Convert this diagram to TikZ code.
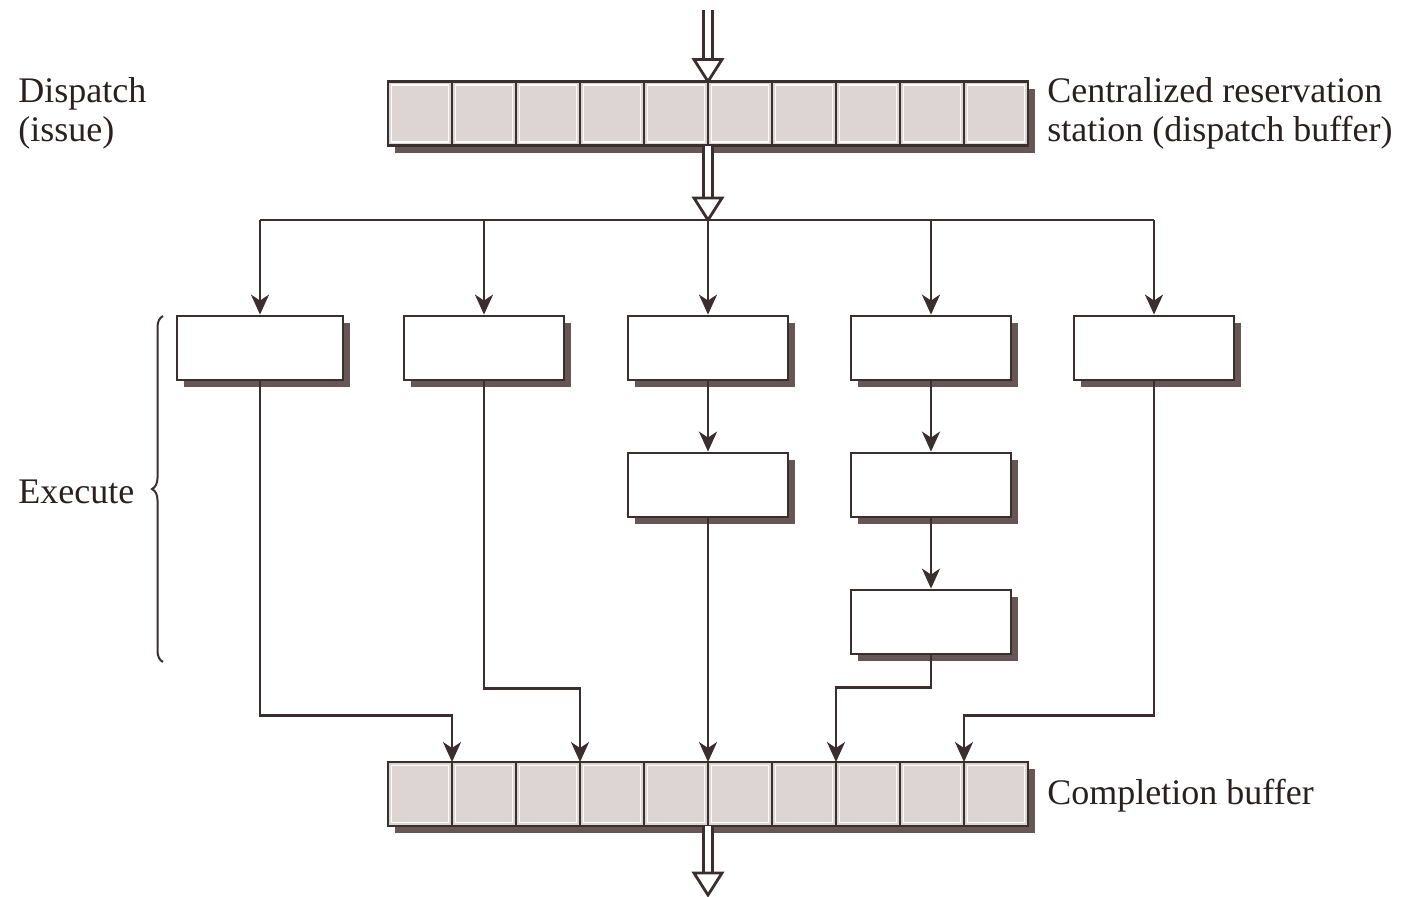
\documentclass[tikz,border=0pt]{standalone}
\usepackage{fontspec}
\setmainfont{Liberation Serif}
\usepackage{xcolor}
\usepackage{tikz}
\usetikzlibrary{arrows.meta,shadows,calc,decorations.pathreplacing,positioning}
\definecolor{ink}{HTML}{3A2E2E}
\definecolor{shadowgray}{HTML}{665655}
\definecolor{cellgray}{HTML}{DDD5D3}
\newcommand{\hollowarrow}[2]{%
  \draw[ink, line width=1.4pt, double=white, double distance=3pt] (#1) -- ($(#2)+(0,-21)$);
  \draw[ink, line width=1.4pt, fill=white, line join=miter] ($(#2)+(-14,-22)$) -- (#2) -- ($(#2)+(14,-22)$) -- cycle;}

\begin{document}
\begin{tikzpicture}[
  x=0.5pt, y=-0.5pt,
  font=\fontsize{18}{19.5}\selectfont,
  line/.style={ink, line width=1.4pt},
  arrow/.style={line, -{Stealth[length=10pt, width=9pt, inset=3pt]}},
  unit/.style={rectangle, draw=ink, line width=1.4pt, fill=white, minimum width=80pt, minimum height=32pt, inner sep=0pt, general shadow={fill=shadowgray, shadow xshift=3.5pt, shadow yshift=-3.5pt}},
  buf/.style={rectangle, draw=ink, line width=1.4pt, fill=cellgray, minimum width=320pt, minimum height=32pt, inner sep=0pt, outer sep=0pt, general shadow={fill=shadowgray, shadow xshift=3.5pt, shadow yshift=-3.5pt}},
  sidetext/.style={anchor=west, align=left, inner sep=0pt, text=ink!70!black}
]
\useasboundingbox (0,0) rectangle (1407,896);

% Buffers
\node[buf] (rs) at (708,113.5) {};
\node[buf] (cb) at (708,794) {};
\foreach \b in {rs,cb} {
  \foreach \k in {0,...,9}
    \draw[white, line width=0.8pt] ($(\b.north west)+(64*\k+3.5,3.5)$) rectangle ($(\b.north west)+(64*\k+60.5,60.5)$);
  \foreach \k in {1,...,9}
    \draw[line] ($(\b.north west)+(64*\k,0)$) -- ($(\b.south west)+(64*\k,0)$);
}
\foreach \k in {1,...,9}
  \coordinate (cb\k) at ($(cb.north west)+(64*\k,0)$);

% Functional units
\node[unit, minimum width=83pt] (fu1) at (260,348) {};
\node[unit] (fu2) at (484,348) {};
\node[unit] (fu3) at (708,348) {};
\node[unit] (fu4) at (931,348) {};
\node[unit] (fu5) at (1154,348) {};
\node[unit, below=35.1pt of fu3] (fu3b) {};
\node[unit, below=35.1pt of fu4] (fu4b) {};
\node[unit, below=35.1pt of fu4b] (fu4c) {};

% Dispatch
\coordinate (top) at (708,10);
\coordinate (split) at (708,220);
\coordinate (out) at (708,895);
\hollowarrow{top}{rs.north}
\hollowarrow{rs.south}{split}

\draw[line] (fu1.north |- split) -- (fu5.north |- split);
\foreach \u in {fu1,fu2,fu3,fu4,fu5}
  \draw[arrow] (\u.north |- split) -- (\u.north);

% Pipelined units
\draw[arrow] (fu3) -- (fu3b);
\draw[arrow] (fu4) -- (fu4b);
\draw[arrow] (fu4b) -- (fu4c);

% Completion
\draw[arrow] (fu1.south) -- ++(0,334) -| (cb1);
\draw[arrow] (fu2.south) -- ++(0,307) -| (cb3);
\draw[arrow] (fu3b.south) -- (cb5);
\draw[arrow] (fu4c.south) -- ++(0,32) -| (cb7);
\draw[arrow] (fu5.south) -- ++(0,334) -| (cb9);
\hollowarrow{cb.south}{out}

% Labels
\node[sidetext] (dispatch) at (18,113.5) {Dispatch\\(issue)};
\node[sidetext] (rslabel) at (1047,113.5) {Centralized reservation\\station (dispatch buffer)};
\node[sidetext] (execute) at (18,492) {Execute};
\node[sidetext] (cblabel) at (1047,796) {Completion buffer};
\draw[ink, line width=1pt, decorate, decoration={brace, amplitude=5.5pt}] (163,662) -- (163,316);

\end{tikzpicture}
\end{document}
